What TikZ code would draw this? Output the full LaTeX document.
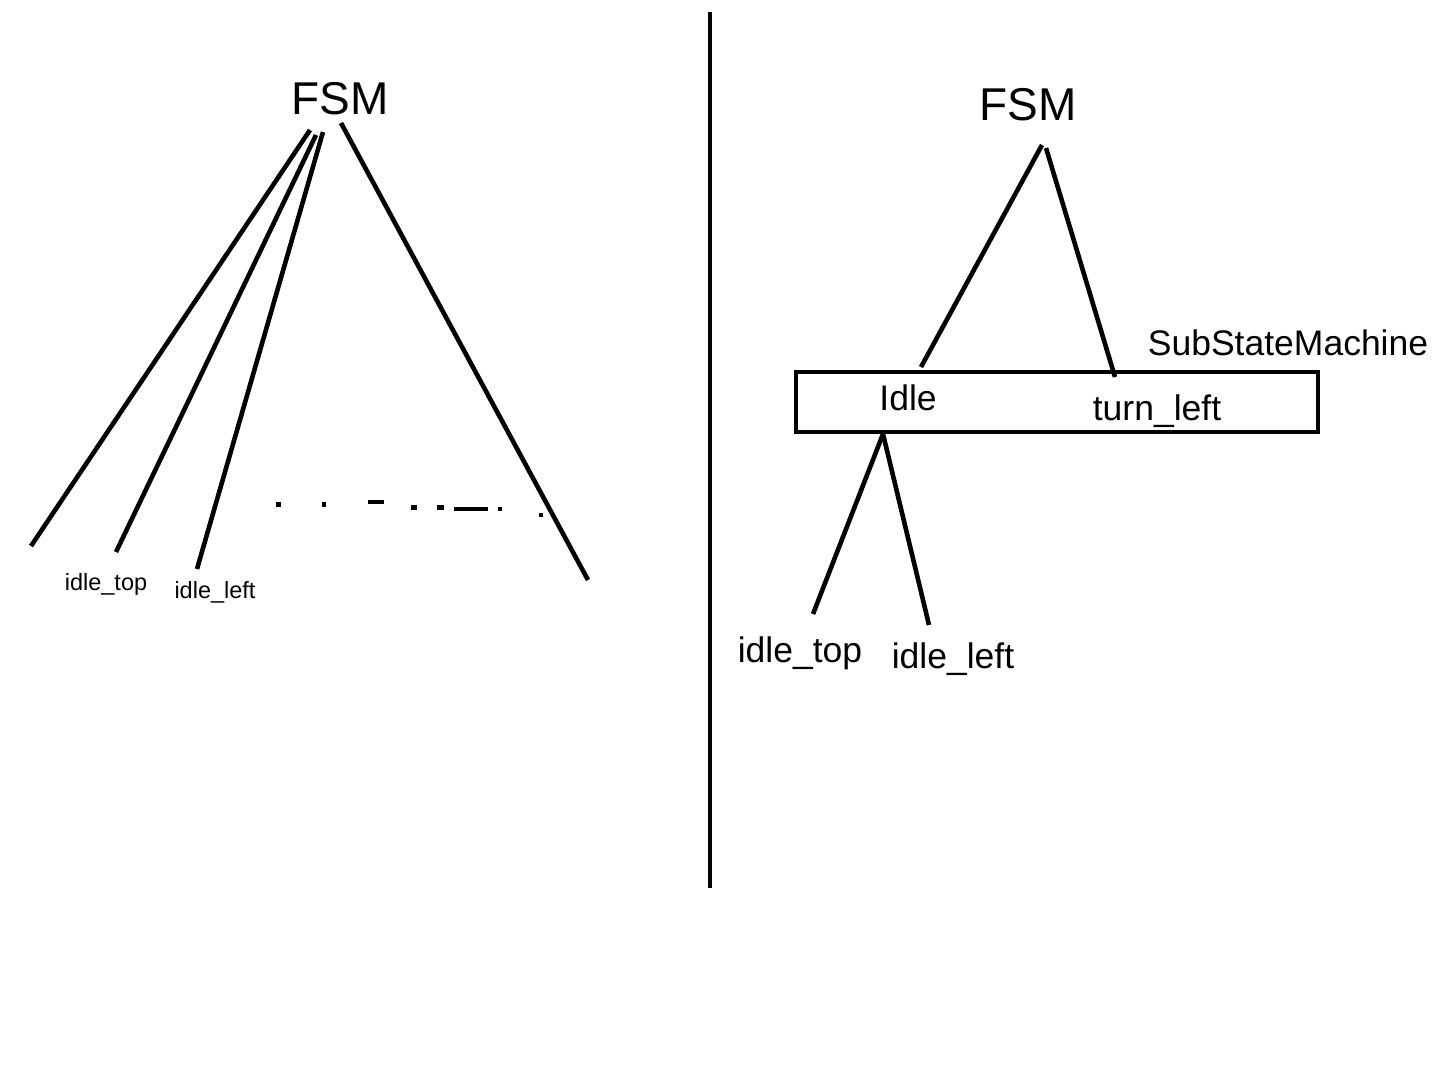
\documentclass[tikz,border=0pt]{standalone}
\usepackage{fontspec}
\setmainfont{Liberation Sans}
\begin{document}
\begin{tikzpicture}[x=1pt,y=-1pt,
  stroke/.style={line width=4.6pt,line cap=butt},
  lbl/.style={inner sep=0pt,anchor=base},
  fsmfont/.style={font=\fontsize{46}{50}\selectfont},
  bigfont/.style={font=\fontsize{35.5}{40}\selectfont},
  smallfont/.style={font=\fontsize{23.5}{26}\selectfont}]
\useasboundingbox[fill=white] (0,0) rectangle (1440,1080);
% divider
\coordinate (divtop) at (710,12);
\coordinate (divbot) at (710,888);
\draw[stroke,line width=4.3pt] (divtop) -- (divbot);
% ---------- left ----------
\node[lbl,fsmfont] (fsmL) at (340,114) {FSM};
\node[lbl,smallfont] (itopL) at (106,590) {idle\_top};
\node[lbl,smallfont] (ileftL) at (215,598) {idle\_left};
\coordinate (a1) at (310,130); \coordinate (b1) at (31,546);
\coordinate (a2) at (316,135); \coordinate (b2) at (116,552);
\coordinate (a3) at (323,132); \coordinate (b3) at (197,569);
\coordinate (a4) at (341,123); \coordinate (b4) at (588,580);
\draw[stroke] (a1) -- (b1);
\draw[stroke] (a2) -- (b2);
\draw[stroke] (a3) -- (b3);
\draw[stroke] (a4) -- (b4);
% broken dashed line
\draw[stroke] (276,504.5) -- (281,504.5);
\draw[stroke] (322,504.5) -- (326,504.5);
\draw[stroke] (368,502) -- (384,502);
\draw[stroke] (411,507.5) -- (417,507.5);
\draw[stroke] (437,507.5) -- (444,507.5);
\draw[stroke] (454,509) -- (488,509);
\draw[stroke] (498,509) -- (502,509);
\draw[stroke] (539,515) -- (543,515);
% ---------- right ----------
\node[lbl,fsmfont] (fsmR) at (1028,120) {FSM};
\draw[line width=3.8pt] (796,372) rectangle (1318,432);
\node[lbl,bigfont] (idle) at (908,410) {Idle};
\node[lbl,bigfont] (turn) at (1157,420) {turn\_left};
\node[lbl,bigfont] (ssm) at (1288,355) {SubStateMachine};
\node[lbl,bigfont] (itopR) at (800,662) {idle\_top};
\node[lbl,bigfont] (ileftR) at (953,668) {idle\_left};
\coordinate (c1) at (1042,145); \coordinate (d1) at (921,367);
\coordinate (c2) at (1046,148); \coordinate (d2) at (1115,377);
\coordinate (e0) at (883,434);
\coordinate (f1) at (813,614);
\coordinate (f2) at (929,625);
\draw[stroke] (c1) -- (d1);
\draw[stroke] (c2) -- (d2);
\draw[stroke] (e0) -- (f1);
\draw[stroke] (e0) -- (f2);
\end{tikzpicture}
\end{document}
